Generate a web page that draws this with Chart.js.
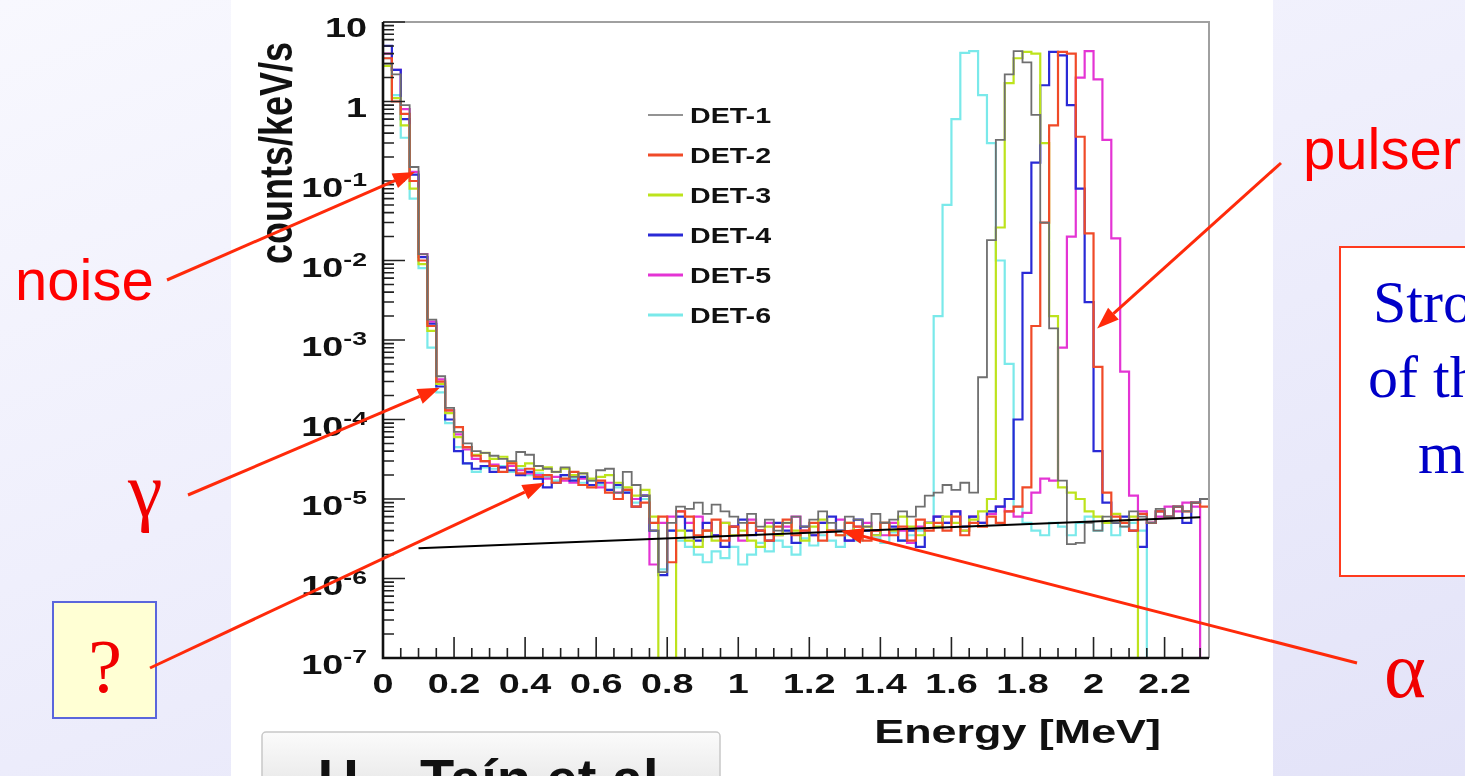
<!DOCTYPE html>
<html>
<head>
<meta charset="utf-8">
<title>Detector spectra DET-1 ... DET-6</title>
<script src="https://cdn.jsdelivr.net/npm/chart.js@4.4.1/dist/chart.umd.min.js"></script>
<style>
  html, body { margin: 0; padding: 0; }
  body {
    position: relative; width: 1465px; height: 776px; overflow: hidden;
    background: linear-gradient(160deg, #f8f8fe 0%, #efeffc 45%, #e3e3f8 100%);
  }
  #panel { position: absolute; left: 231px; top: 0; width: 1042px; height: 776px; background: #fff; }
  #spectrum { position: absolute; left: 231px; top: 0; }
  #notes { position: absolute; left: 0; top: 0; }
</style>
</head>
<body>
<div id="panel"></div>
<canvas id="spectrum" width="1042" height="776"></canvas>
<svg id="notes" width="1465" height="776" xmlns="http://www.w3.org/2000/svg">
  <defs>
    <linearGradient id="refFill" x1="0" y1="0" x2="0" y2="1">
      <stop offset="0" stop-color="#fbfbfb"/>
      <stop offset="1" stop-color="#e0e0e0"/>
    </linearGradient>
  </defs>
  <text x="15" y="300" font-family="Liberation Sans, Arial, sans-serif" font-size="58" fill="#ff0000">noise</text>
  <text x="128" y="516" font-family="Liberation Serif, Times New Roman, serif" font-size="78" fill="#f00000">γ</text>
  <rect x="53" y="602" width="103" height="116" fill="#ffffd4" stroke="#5a66dc" stroke-width="2"/>
  <text x="105" y="692" text-anchor="middle" font-family="Liberation Serif, Times New Roman, serif" font-size="76" fill="#f00000">?</text>
  <text x="1303" y="169" font-family="Liberation Sans, Arial, sans-serif" font-size="58" fill="#ff0000">pulser</text>
  <rect x="1340" y="247" width="160" height="329" fill="#ffffff" stroke="#ff3a1e" stroke-width="2"/>
  <text font-family="Liberation Serif, Times New Roman, serif" font-size="60" fill="#0000c8">
    <tspan x="1373" y="322">Stro</tspan>
    <tspan x="1368" y="397">of th</tspan>
    <tspan x="1418" y="473">m</tspan>
  </text>
  <text x="1384" y="697" font-family="Liberation Serif, Times New Roman, serif" font-size="80" fill="#f00000">α</text>
  <rect x="262" y="732" width="458" height="80" rx="4" fill="url(#refFill)" stroke="#c8c8c8" stroke-width="1.5"/>
  <text x="318" y="798" font-family="Liberation Sans, Arial, sans-serif" font-weight="bold" font-size="56" fill="#111">U.<tspan x="420">Taín et al.</tspan></text>
  <g id="arrows"></g>
</svg>
<script>
// energy bins of 25 keV starting at 0 MeV
const binWidth = 0.025;
const EMPTY = 1e-9; // empty bin, falls below the 1e-7 floor

// counts/keV/s per bin, one row = 10 bins (0.25 MeV)
const det1Rate = [
  3.0, 2.2, 0.9, 0.15, 0.012, 1.8e-3, 3.5e-4, 1.4e-4, 7e-5, 5e-5,
  4e-5, 3.8e-5, 3.5e-5, 3.2e-5, 3.0e-5, 3.9e-5, 3.6e-5, 2.6e-5, 2.4e-5, 2.2e-5,
  2.5e-5, 1.9e-5, 2.1e-5, 1.7e-5, 2.3e-5, 2.4e-5, 1.2e-5, 2.2e-5, 1.5e-5, 1.1e-5,
  4e-6, 1.2e-6, 5e-6, 8e-6, 7.5e-6, 9e-6, 6.5e-6, 8.5e-6, 7e-6, 6e-6,
  5e-6, 6.5e-6, 4.5e-6, 5.5e-6, 4e-6, 5e-6, 6e-6, 4.5e-6, 5.5e-6, 7e-6,
  5e-6, 4e-6, 6e-6, 5.5e-6, 4.5e-6, 6.5e-6, 5e-6, 5.5e-6, 7e-6, 6e-6,
  8e-6, 1.1e-5, 1.2e-5, 1.5e-5, 1.3e-5, 1.6e-5, 1.2e-5, 3.4e-4, 0.018, 0.33,
  2.2, 4.3, 3.1, 0.68, 0.03, 1.4e-3, 1.7e-5, 2.7e-6, 2.8e-6, 5e-6,
  4e-6, 6e-6, 5e-6, 4.5e-6, 7e-6, 6e-6, 5e-6, 7.5e-6, 6e-6, 8e-6,
  7e-6, 9e-6, 1e-5
];
const det2Rate = [
  3.5, 1.0, 0.7, 0.1, 0.01, 1.5e-3, 3e-4, 1.3e-4, 8e-5, 4.5e-5,
  3.5e-5, 3e-5, 2.6e-5, 2.2e-5, 2.8e-5, 2.1e-5, 2.4e-5, 1.9e-5, 2.0e-5, 1.6e-5,
  1.8e-5, 2.2e-5, 1.5e-5, 1.4e-5, 1.7e-5, 1.2e-5, 1.0e-5, 1.3e-5, 8e-6, 9e-6,
  5e-6, 6e-6, 1.6e-6, 7e-6, 6e-6, 3.5e-6, 4e-6, 5.5e-6, 3e-6, 4.5e-6,
  3.5e-6, 5e-6, 4e-6, 3e-6, 4.5e-6, 5.5e-6, 3.5e-6, 4e-6, 5e-6, 3e-6,
  4e-6, 3.5e-6, 5e-6, 4.5e-6, 3e-6, 4e-6, 5e-6, 3.5e-6, 4.5e-6, 3e-6,
  5.5e-6, 4e-6, 5e-6, 4e-6, 6e-6, 3.5e-6, 5e-6, 4.5e-6, 6e-6, 5e-6,
  7e-6, 8e-6, 1.4e-5, 1.5e-3, 0.03, 0.5, 4.2, 4.0, 0.36, 0.022,
  4.6e-4, 1.2e-5, 6e-6, 5e-6, 4e-6, 6.5e-6, 5e-6, 7e-6, 6e-6, 8e-6,
  7e-6, 9e-6, 8e-6
];
const det3Rate = [
  2.8, 1.1, 0.5, 0.08, 9e-3, 1.3e-3, 2.8e-4, 1.2e-4, 6e-5, 4.5e-5,
  3.6e-5, 3.8e-5, 3.2e-5, 3.4e-5, 2.9e-5, 2.6e-5, 2.8e-5, 2.3e-5, 2.5e-5, 2.2e-5,
  2.4e-5, 2.0e-5, 2.1e-5, 1.8e-5, 1.9e-5, 2.0e-5, 1.6e-5, 1.4e-5, 1.1e-5, 1.3e-5,
  6e-6, EMPTY, EMPTY, 4e-6, 3e-6, 2.5e-6, 4e-6, 3e-6, 5e-6, 3.5e-6,
  4e-6, 3e-6, 2.5e-6, 4.5e-6, 3.5e-6, 5e-6, 4e-6, 3e-6, 4.5e-6, 5.5e-6,
  4e-6, 3.5e-6, 5e-6, 4e-6, 4.5e-6, 3.5e-6, 5e-6, 4e-6, 6e-6, 4.5e-6,
  3.5e-6, 5e-6, 4.5e-6, 6e-6, 5e-6, 4e-6, 5.5e-6, 7e-6, 1e-5, 0.026,
  1.7, 3.5, 4.2, 4.0, 0.3, 2e-3, 1.4e-5, 1.2e-5, 1e-5, 7e-6,
  6e-6, 5e-6, 6.5e-6, 5e-6, 6e-6, EMPTY, EMPTY, EMPTY, EMPTY, EMPTY,
  EMPTY, EMPTY, EMPTY
];
const det4Rate = [
  5.0, 2.5, 0.6, 0.12, 0.011, 1.6e-3, 2.6e-4, 1.0e-4, 4e-5, 2.8e-5,
  2.4e-5, 2.6e-5, 2.2e-5, 2.5e-5, 2.3e-5, 2.0e-5, 2.2e-5, 1.8e-5, 1.4e-5, 1.6e-5,
  2.0e-5, 1.7e-5, 1.9e-5, 1.5e-5, 1.6e-5, 1.3e-5, 1.5e-5, 1.2e-5, 8e-6, 1.1e-5,
  4e-6, 1.1e-6, 4e-6, 6e-6, 4e-6, 3e-6, 5e-6, 3.5e-6, 2.5e-6, 4.5e-6,
  5.5e-6, 3.5e-6, 4e-6, 3e-6, 5e-6, 4e-6, 2.8e-6, 4.5e-6, 3.5e-6, 5e-6,
  6e-6, 4e-6, 3e-6, 5.5e-6, 4e-6, 3.5e-6, 5e-6, 4.5e-6, 3e-6, 4e-6,
  2.5e-6, 5e-6, 6e-6, 5e-6, 7e-6, 4.5e-6, 6e-6, 5e-6, 7e-6, 8e-6,
  1e-5, 1e-4, 7e-3, 0.17, 1.6, 4.2, 3.8, 0.9, 0.08, 3e-3,
  4e-5, 9e-6, 5e-6, 6e-6, 4e-6, 2.5e-6, 5e-6, 7e-6, 6e-6, 8e-6,
  5e-6, 9e-6, 1e-5
];
const det5Rate = [
  4.0, 2.5, 0.8, 0.13, 0.012, 1.7e-3, 3.2e-4, 1.3e-4, 6.5e-5, 4.2e-5,
  3.2e-5, 3e-5, 2.7e-5, 2.5e-5, 2.6e-5, 2.3e-5, 2.1e-5, 2.0e-5, 1.8e-5, 1.9e-5,
  1.7e-5, 1.6e-5, 1.8e-5, 1.5e-5, 1.4e-5, 1.6e-5, 1.2e-5, 1.3e-5, 1.0e-5, 1.1e-5,
  1.5e-6, 5e-6, 6e-6, 7e-6, 5e-6, 6e-6, 4e-6, 3.5e-6, 5e-6, 4.5e-6,
  3e-6, 5.5e-6, 4e-6, 5e-6, 3.5e-6, 4.5e-6, 6e-6, 4e-6, 3.5e-6, 5e-6,
  4e-6, 5.5e-6, 3e-6, 4.5e-6, 5e-6, 4e-6, 3.5e-6, 5e-6, 4e-6, 2.8e-6,
  4.5e-6, 5e-6, 6e-6, 5e-6, 7e-6, 4e-6, 6e-6, 5e-6, 6.5e-6, 8e-6,
  7e-6, 6e-6, 6.7e-6, 1.2e-5, 1.8e-5, 1.7e-5, 8e-4, 0.02, 2.0, 4.3,
  1.9, 0.33, 0.019, 4e-4, 1.1e-5, 7e-6, 5e-6, 6e-6, 8e-6, 7e-6,
  9e-6, 8e-6, EMPTY
];
const det6Rate = [
  3.5, 1.2, 0.35, 0.06, 8e-3, 8e-4, 2.2e-4, 9e-5, 4.5e-5, 2.8e-5,
  2.2e-5, 2.5e-5, 2.4e-5, 2.6e-5, 2.2e-5, 2.4e-5, 2.0e-5, 2.1e-5, 1.9e-5, 1.7e-5,
  2.0e-5, 1.8e-5, 1.6e-5, 1.7e-5, 1.5e-5, 1.3e-5, 1.4e-5, 1.2e-5, 9e-6, 1.0e-5,
  5e-6, 1.3e-6, 4e-6, 3e-6, 2.5e-6, 2e-6, 1.6e-6, 2.2e-6, 1.8e-6, 2.5e-6,
  1.5e-6, 2e-6, 2.8e-6, 2.2e-6, 3e-6, 2.5e-6, 2e-6, 3.2e-6, 2.6e-6, 3.5e-6,
  3e-6, 2.5e-6, 3.5e-6, 3e-6, 4e-6, 3.2e-6, 2.8e-6, 3.8e-6, 3e-6, 3.5e-6,
  4e-6, 5e-6, 2e-3, 0.05, 0.6, 4.1, 4.3, 1.2, 0.3, 0.01,
  5e-4, 8e-6, 5e-6, 4e-6, 3.5e-6, 5e-6, 4.5e-6, 3.5e-6, 5e-6, 6e-6,
  4e-6, 5e-6, 3.5e-6, 4.5e-6, 5e-6, 4e-6, EMPTY, EMPTY, EMPTY, EMPTY,
  EMPTY, EMPTY, EMPTY
];

const detectorLabels = ['DET-1', 'DET-2', 'DET-3', 'DET-4', 'DET-5', 'DET-6'];
const detectorRates = [det1Rate, det2Rate, det3Rate, det4Rate, det5Rate, det6Rate];
const detectorColors = ['#6f6f6f', '#f04a28', '#bde31c', '#2a2ad6', '#e434d4', '#7ae9ea'];

// flat alpha background fit (straight line on the log axis)
const fitEnergy = [0.1, 2.3];
const fitRate = [2.4e-6, 5.9e-6];

const xTickValues = [0, 0.2, 0.4, 0.6, 0.8, 1, 1.2, 1.4, 1.6, 1.8, 2, 2.2];
const xTickLabels = ['0', '0.2', '0.4', '0.6', '0.8', '1', '1.2', '1.4', '1.6', '1.8', '2', '2.2'];
const yTickPowers = [-7, -6, -5, -4, -3, -2, -1, 0, 1];

// callout arrows: start point on the page, tip in data units
const callouts = [
  { from: [167, 280], energy: 0.09, rate: 0.13 },      // noise
  { from: [188, 495], energy: 0.16, rate: 2.5e-4 },    // gamma
  { from: [150, 668], energy: 0.455, rate: 1.6e-5 },   // ?
  { from: [1281, 163], energy: 2.01, rate: 1.4e-3 },   // pulser
  { from: [1357, 663], energy: 1.29, rate: 4e-6 }      // alpha
];

const TICK_FONT = 'bold 27px "Liberation Sans", Arial, sans-serif';
const SUP_FONT = 'bold 19px "Liberation Sans", Arial, sans-serif';
const XTITLE_FONT = 'bold 33px "Liberation Sans", Arial, sans-serif';
const YTITLE_FONT = 'bold 36px "Liberation Sans", Arial, sans-serif';
const LEGEND_FONT = 'bold 22px "Liberation Sans", Arial, sans-serif';
const WIDE = 1.4; // ROOT lettering is drawn wide

function histogramPoints(rates) {
  const pts = rates.map((r, i) => ({ x: i * binWidth, y: r }));
  pts.push({ x: rates.length * binWidth, y: rates[rates.length - 1] });
  return pts;
}

function wideText(ctx, text, x, y, align, sx) {
  ctx.save();
  ctx.translate(x, y);
  ctx.scale(sx, 1);
  ctx.textAlign = align;
  ctx.fillText(text, 0, 0);
  ctx.restore();
}

// ROOT-style frame: inward ticks, exponent labels, titles and the legend box
const rootFrame = {
  id: 'rootFrame',
  afterDraw(chart) {
    const { ctx, chartArea: a, scales: { x, y } } = chart;
    ctx.save();

    ctx.strokeStyle = '#a0a0a0';
    ctx.lineWidth = 2;
    ctx.beginPath();
    ctx.moveTo(a.left, a.top);
    ctx.lineTo(a.right, a.top);
    ctx.lineTo(a.right, a.bottom);
    ctx.stroke();

    ctx.strokeStyle = '#222';
    ctx.lineWidth = 1.6;
    ctx.beginPath();
    const minorStep = xTickValues[1] / 4;
    for (let k = 0; k * minorStep <= x.max + 1e-9; k++) {
      const px = x.getPixelForValue(k * minorStep);
      const len = k % 4 === 0 ? 21 : 10;
      ctx.moveTo(px, a.bottom);
      ctx.lineTo(px, a.bottom - len);
    }
    yTickPowers.forEach(p => {
      const d = Math.pow(10, p);
      for (let m = 1; m <= 9; m++) {
        if (d * m > y.max * 1.0001) break;
        const py = y.getPixelForValue(d * m);
        ctx.moveTo(a.left, py);
        ctx.lineTo(a.left + (m === 1 ? 22 : 11), py);
      }
    });
    ctx.stroke();

    ctx.strokeStyle = '#111';
    ctx.lineWidth = 2.6;
    ctx.beginPath();
    ctx.moveTo(a.left, a.top);
    ctx.lineTo(a.left, a.bottom);
    ctx.lineTo(a.right, a.bottom);
    ctx.stroke();

    ctx.fillStyle = '#111';
    ctx.textBaseline = 'alphabetic';
    ctx.font = TICK_FONT;
    xTickValues.forEach((v, i) => {
      wideText(ctx, xTickLabels[i], x.getPixelForValue(v), a.bottom + 35, 'center', WIDE);
    });

    const labelRight = a.left - 16;
    yTickPowers.forEach(p => {
      const py = y.getPixelForValue(Math.pow(10, p));
      if (p === 0 || p === 1) {
        ctx.font = TICK_FONT;
        wideText(ctx, p === 0 ? '1' : '10', labelRight, py + 15, 'right', WIDE);
        return;
      }
      const sup = String(p);
      ctx.font = SUP_FONT;
      const supW = ctx.measureText(sup).width * WIDE;
      wideText(ctx, sup, labelRight, py + 5, 'right', WIDE);
      ctx.font = TICK_FONT;
      wideText(ctx, '10', labelRight - supW, py + 16, 'right', WIDE);
    });

    ctx.font = XTITLE_FONT;
    wideText(ctx, 'Energy [MeV]', a.right - 48, 743, 'right', 1.36);

    ctx.font = YTITLE_FONT;
    ctx.save();
    ctx.translate(a.left - 91, 42);
    ctx.scale(1.3, 1);
    ctx.rotate(-Math.PI / 2);
    ctx.textAlign = 'right';
    ctx.fillText('counts/keV/s', 0, 0);
    ctx.restore();

    ctx.font = LEGEND_FONT;
    chart.data.datasets.filter(ds => detectorLabels.includes(ds.label)).forEach((ds, i) => {
      const cy = 115 + i * 40;
      ctx.strokeStyle = ds.borderColor;
      ctx.lineWidth = i === 0 ? 1.5 : 3;
      ctx.beginPath();
      ctx.moveTo(a.left + 265, cy);
      ctx.lineTo(a.left + 300, cy);
      ctx.stroke();
      ctx.fillStyle = '#111';
      wideText(ctx, ds.label, a.left + 307, cy + 8, 'left', 1.3);
    });

    ctx.restore();
  }
};

const datasets = detectorLabels.map((label, i) => ({
  label,
  data: histogramPoints(detectorRates[i]),
  borderColor: detectorColors[i],
  borderWidth: i === 0 ? 1.8 : 2.2,
  stepped: true,
  pointRadius: 0,
  fill: false
}));
datasets.push({
  label: 'fit',
  data: fitEnergy.map((e, i) => ({ x: e, y: fitRate[i] })),
  borderColor: '#000',
  borderWidth: 2,
  pointRadius: 0,
  fill: false,
  order: -1
});

const chart = new Chart(document.getElementById('spectrum'), {
  type: 'line',
  data: { datasets },
  options: {
    responsive: false,
    animation: false,
    events: [],
    layout: { padding: { top: 22, right: 64, left: 0, bottom: 0 } },
    plugins: { legend: { display: false }, tooltip: { enabled: false } },
    scales: {
      x: {
        type: 'linear',
        min: 0,
        max: det1Rate.length * binWidth,
        grid: { display: false },
        border: { display: false },
        ticks: { display: false },
        afterFit: s => { s.height = 118; }
      },
      y: {
        type: 'logarithmic',
        min: 1e-7,
        max: 10,
        grid: { display: false },
        border: { display: false },
        ticks: { display: false },
        afterFit: s => { s.width = 152; }
      }
    }
  },
  plugins: [rootFrame]
});

// red callout arrows on top of the page
const NS = 'http://www.w3.org/2000/svg';
const arrowLayer = document.getElementById('arrows');
const canvasLeft = document.getElementById('spectrum').offsetLeft;
callouts.forEach(c => {
  const [x1, y1] = c.from;
  const x2 = canvasLeft + chart.scales.x.getPixelForValue(c.energy);
  const y2 = chart.scales.y.getPixelForValue(c.rate);
  const len = Math.hypot(x2 - x1, y2 - y1);
  const ux = (x2 - x1) / len, uy = (y2 - y1) / len;
  const head = 22, half = 8;
  const bx = x2 - ux * head, by = y2 - uy * head;
  const line = document.createElementNS(NS, 'line');
  line.setAttribute('x1', x1); line.setAttribute('y1', y1);
  line.setAttribute('x2', bx); line.setAttribute('y2', by);
  line.setAttribute('stroke', '#ff2a0a');
  line.setAttribute('stroke-width', 3);
  arrowLayer.appendChild(line);
  const tip = document.createElementNS(NS, 'polygon');
  tip.setAttribute('points', [
    [x2, y2],
    [bx - uy * half, by + ux * half],
    [bx + uy * half, by - ux * half]
  ].map(p => p.join(',')).join(' '));
  tip.setAttribute('fill', '#ff2a0a');
  arrowLayer.appendChild(tip);
});
</script>
</body>
</html>
